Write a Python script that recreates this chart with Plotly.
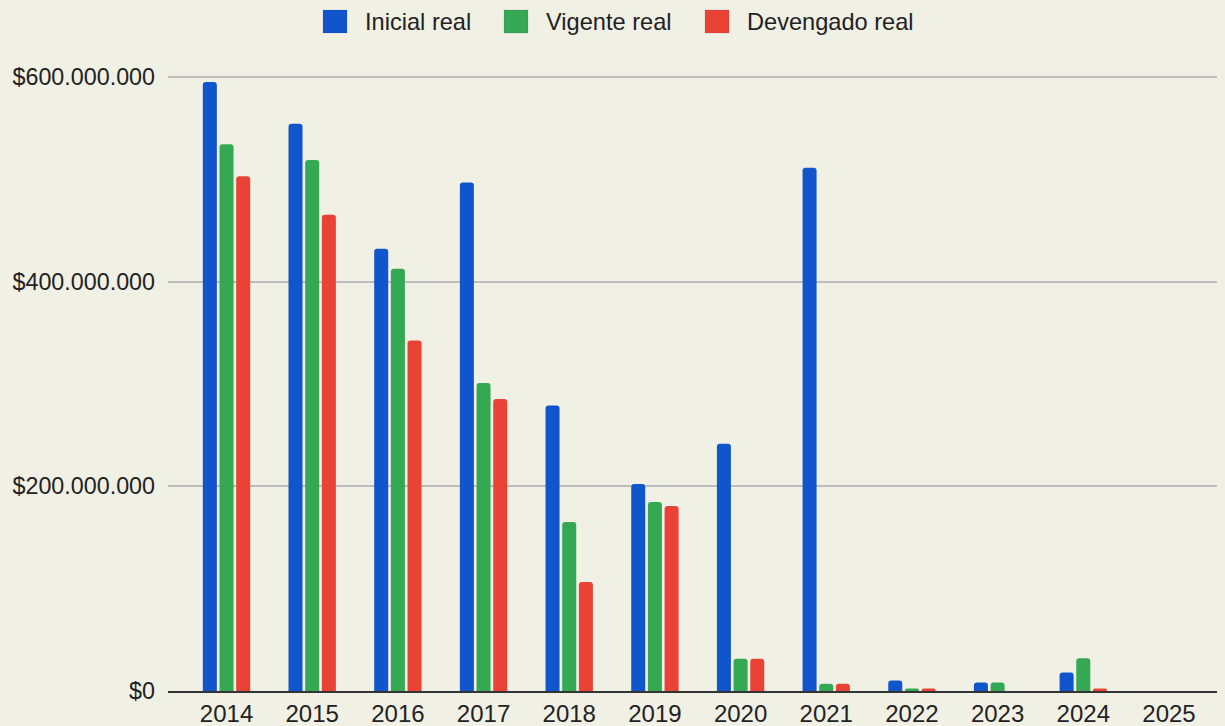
import plotly.graph_objects as go

years = ["2014", "2015", "2016", "2017", "2018", "2019", "2020", "2021", "2022", "2023", "2024", "2025"]
inicial_real = [595.1e6, 554.4e6, 432.2e6, 497.0e6, 279.1e6, 202.3e6, 241.7e6, 511.4e6, 10.3e6, 8.4e6, 18.1e6, 0]
vigente_real = [534.2e6, 518.9e6, 412.7e6, 301.0e6, 165.2e6, 184.8e6, 31.6e6, 7.0e6, 2.5e6, 8.4e6, 32.0e6, 0]
devengado_real = [502.9e6, 465.5e6, 342.4e6, 285.4e6, 106.6e6, 180.9e6, 31.6e6, 7.0e6, 2.5e6, 0, 2.5e6, 0]

series_names = ["Inicial real", "Vigente real", "Devengado real"]
series_values = [inicial_real, vigente_real, devengado_real]
colors = ["#1155cc", "#34a853", "#ea4335"]

bg = "#f1f0e5"
font_family = "Liberation Sans, Arial, sans-serif"

fig = go.Figure()
for name, vals, col in zip(series_names, series_values, colors):
    fig.add_trace(go.Bar(
        x=years, y=vals, name=name, showlegend=False,
        marker=dict(color=col, line=dict(width=0)),
    ))

# Manual legend (square swatches + labels), in paper coordinates
W, H = 1057.0, 629.0
legend_px = [(323, 363), (504, 544), (705, 745)]
for (sx, tx), name, col in zip(legend_px, series_names, colors):
    fig.add_shape(type="rect", xref="paper", yref="paper",
                  x0=(sx - 168) / W, x1=(sx + 24 - 168) / W,
                  y0=(691 - 33) / H, y1=(691 - 10) / H,
                  fillcolor=col, line=dict(color="rgba(0,0,0,0.15)", width=0.6))
    fig.add_annotation(xref="paper", yref="paper", x=(tx - 168) / W, y=(691 - 21.5) / H,
                       text=name, showarrow=False, xanchor="left", yanchor="middle",
                       font=dict(family=font_family, size=23.6, color="#222222"))

fig.update_layout(
    width=1217, height=718,
    paper_bgcolor=bg, plot_bgcolor=bg,
    margin=dict(l=160, r=0, t=54, b=35),
    barmode="group", bargap=0.416, bargroupgap=0.16,
    barcornerradius=3,
    separators=",.",
    font=dict(family=font_family, color="#222222"),
    showlegend=False,
)
fig.update_xaxes(
    type="category", range=[-0.683, 11.654],
    showgrid=False, showline=True, linecolor="#333333", linewidth=2,
    ticks="", tickfont=dict(size=24, color="#222222"),
    automargin=False, fixedrange=True,
)
fig.update_yaxes(
    range=[0, 614.66e6], dtick=2e8, tick0=0,
    tickprefix="$", tickformat=",.0f",
    showgrid=True, gridcolor="#bdbdbd", gridwidth=1.5,
    zeroline=False, showline=False, ticks="",
    tickfont=dict(size=23.3, color="#222222"), ticklabelstandoff=12,
    automargin=False, fixedrange=True,
)

fig.write_html("out.html", post_script="document.body.style.background='%s';" % bg)
